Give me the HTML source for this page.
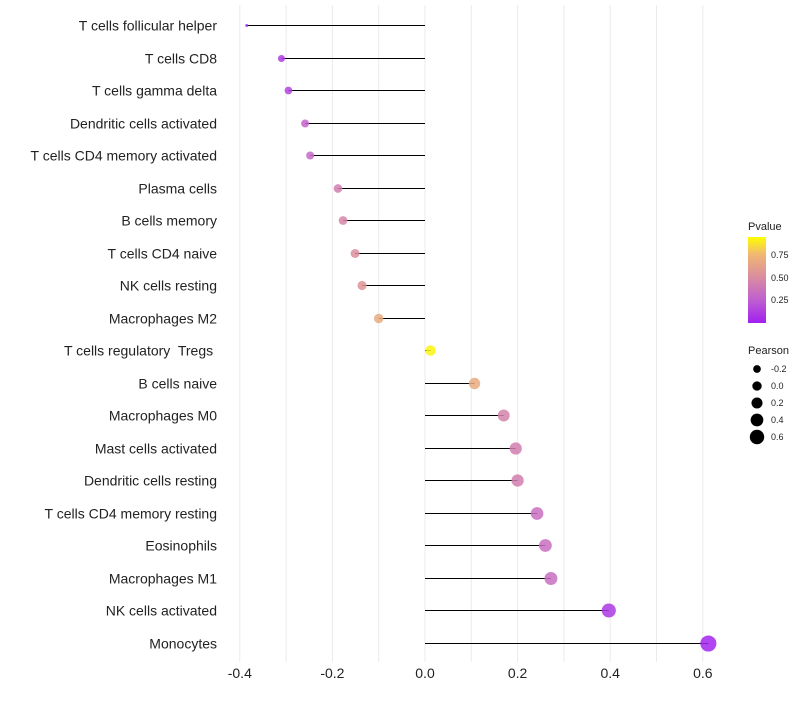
<!DOCTYPE html>
<html><head><meta charset="utf-8"><style>
body{margin:0;background:#fff;font-family:"Liberation Sans",Arial,sans-serif}
text{white-space:pre}
</style></head><body>
<svg id="chart" width="800" height="700" xmlns="http://www.w3.org/2000/svg">
<defs><linearGradient id="cg" x1="0" y1="1" x2="0" y2="0">
<stop offset="0" stop-color="#a020f0"/><stop offset="0.27" stop-color="#c060d0"/><stop offset="0.53" stop-color="#d98ca0"/><stop offset="0.8" stop-color="#f0b872"/><stop offset="1" stop-color="#ffff00"/></linearGradient></defs>
<g id="grid"></g><g id="marks"></g><g id="labels"></g><g id="legend"></g>
</svg>
<script>
const categories=["T cells follicular helper","T cells CD8","T cells gamma delta","Dendritic cells activated","T cells CD4 memory activated","Plasma cells","B cells memory","T cells CD4 naive","NK cells resting","Macrophages M2","T cells regulatory  Tregs ","B cells naive","Macrophages M0","Mast cells activated","Dendritic cells resting","T cells CD4 memory resting","Eosinophils","Macrophages M1","NK cells activated","Monocytes"];
const pearson=[-0.385,-0.31,-0.295,-0.259,-0.248,-0.188,-0.177,-0.151,-0.136,-0.1,0.012,0.107,0.17,0.196,0.2,0.242,0.26,0.272,0.397,0.612];
const pvalue=[0.05,0.12,0.15,0.3,0.32,0.45,0.5,0.55,0.58,0.72,0.97,0.72,0.48,0.45,0.45,0.36,0.36,0.35,0.1,0.02];
const xTicks=[-0.4,-0.2,0,0.2,0.4,0.6];
const sizeLegend=[-0.2,0,0.2,0.4,0.6];
const NS="http://www.w3.org/2000/svg";
const X=v=>425+v*463;
const Y=i=>Math.round(25+i*32.5)+0.5;
const R=v=>v<-0.3?1.5+(v+0.385)/0.085*2.3:3.8+(v+0.3)/0.9*4.2;
function col(p){const st=[[0,[160,32,240]],[0.27,[192,96,208]],[0.53,[217,140,160]],[0.8,[240,184,114]],[1,[255,255,0]]];
for(let k=1;k<st.length;k++){if(p<=st[k][0]){const a=st[k-1],b=st[k],t=(p-a[0])/(b[0]-a[0]);return `rgb(${a[1].map((c,j)=>Math.round(c+(b[1][j]-c)*t)).join(',')})`;}}return "rgb(255,255,0)";}
function mk(t,a,parent){const e=document.createElementNS(NS,t);for(const k in a)e.setAttribute(k,a[k]);document.getElementById(parent).appendChild(e);return e;}
for(let v=-0.4;v<=0.61;v+=0.1){const g=mk("line",{x1:X(v),x2:X(v),y1:5,y2:662,stroke:"#ebebeb","stroke-width":1},"grid");

}
xTicks.forEach(v=>{const t=mk("text",{x:X(v),y:678,"text-anchor":"middle","font-size":14,fill:"#222"},"labels");t.textContent=v===0?"0.0":v.toFixed(1);

});
categories.forEach((c,i)=>{const t=mk("text",{x:217,y:Y(i)+5,"text-anchor":"end","font-size":14,fill:"#222"},"labels");t.textContent=c;


const l=mk("line",{x1:X(0),x2:X(pearson[i]),y1:Y(i),y2:Y(i),stroke:"#000","stroke-width":1},"marks");


const d=mk("circle",{cx:X(pearson[i]),cy:Y(i),r:R(pearson[i]),fill:col(pvalue[i]),"fill-opacity":0.85},"marks");

});
let t=mk("text",{x:748,y:230,"font-size":11,fill:"#222"},"legend");t.textContent="Pvalue";


const cb=mk("rect",{x:748,y:237,width:18,height:86,fill:"url(#cg)"},"legend");


[[0.75,255],[0.5,278],[0.25,300]].forEach(([v,y])=>{const s=mk("text",{x:771,y:y+3,"font-size":9,fill:"#222"},"legend");s.textContent=v.toFixed(2);

});
t=mk("text",{x:748,y:354,"font-size":11,fill:"#222"},"legend");t.textContent="Pearson";


sizeLegend.forEach((v,k)=>{const y=369+k*17;const c=mk("circle",{cx:757,cy:y,r:R(v)*0.9,fill:"#000"},"legend");


const s=mk("text",{x:771,y:y+3,"font-size":9,fill:"#222"},"legend");s.textContent=v===0?"0.0":v.toFixed(1);

});
</script>
</body></html>
